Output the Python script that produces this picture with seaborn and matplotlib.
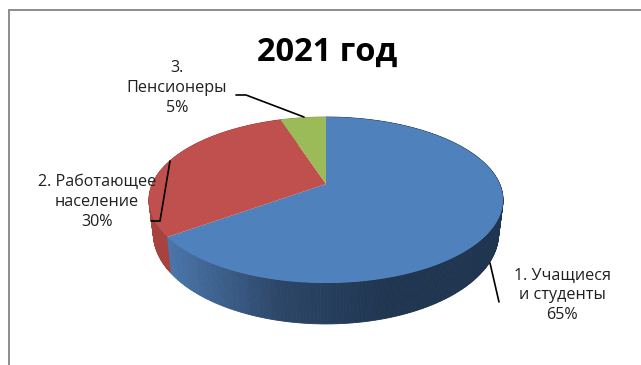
import numpy as np
import matplotlib
matplotlib.use("Agg")
import matplotlib.pyplot as plt
import seaborn as sns

# Share of each group, percent
labels = ["1. Учащиеся\nи студенты\n65%", "2. Работающее\nнаселение\n30%", "3.\nПенсионеры\n5%"]
shares = [65, 30, 5]
title = "2021 год"

sns.set_theme(style="white")
plt.rcParams["font.family"] = ["Open Sans", "DejaVu Sans"]

top_colors = ["#4f81bd", "#c0504d", "#9bbb59"]
side_ramps = [sns.blend_palette(["#4a76ab", "#2c4668", "#1f3550", "#1f3550"], 64),
              sns.blend_palette(["#a8423f", "#8c3836"], 64),
              sns.blend_palette(["#7f9a48", "#7f9a48"], 64)]

W, H = 641, 365
fig = plt.figure(figsize=(W / 100, H / 100), dpi=100, facecolor="white")
ax = fig.add_axes([0, 0, 1, 1])
ax.set_xlim(0, W)
ax.set_ylim(H, 0)
ax.axis("off")

# Perspective view of a flat disc
CX, CY = 326.0, 184.0
SX, SY, K = 173.7, 79.9, 0.193


def top_face(t):
    d = 1 + K * np.sin(t)
    return CX + SX * np.cos(t) / d, CY - SY * np.sin(t) / d


def bottom_face(t):
    d = 1 + K * np.sin(t)
    return CX + 0.975 * SX * np.cos(t) / d, CY + 32 - 1.09 * SY * np.sin(t) / d


# Slices run clockwise from twelve o'clock
edges = np.pi / 2 - 2 * np.pi * np.cumsum([0] + shares) / sum(shares)
spans = list(zip(edges[:-1], edges[1:]))

# Side wall, back to front, so nearer strips cover farther ones
strips = []
for i, (a, b) in enumerate(spans):
    ts = np.linspace(a, b, max(int(abs(b - a) * 90), 3))
    for t0, t1 in zip(ts[:-1], ts[1:]):
        strips.append((i, t0, t1))
strips.sort(key=lambda s: -np.sin((s[1] + s[2]) / 2))

for i, t0, t1 in strips:
    mid = (t0 + t1) / 2
    x0, _ = top_face(mid)
    frac = np.clip((x0 - 165) / (500 - 165), 0, 0.999)
    color = side_ramps[i][int(frac * 64)]
    xa, ya = top_face(t0)
    xb, yb = top_face(t1)
    xc, yc = bottom_face(t1)
    xd, yd = bottom_face(t0)
    ax.fill([xa, xb, xc, xd], [ya, yb, yc, yd], color=color, lw=0.6, zorder=2)

# Top face
for (a, b), color in zip(spans, top_colors):
    ts = np.linspace(a, b, 200)
    xs, ys = top_face(ts)
    ax.fill(np.r_[CX, xs], np.r_[CY, ys], color=color, lw=0, zorder=3)

# Chart frame
ax.plot([9, 9, 641], [365, 10, 10], color="#8c8c8c", lw=1.4, zorder=1, solid_joinstyle="miter")

ax.text(327, 52, title, ha="center", va="center", fontsize=23.5, fontweight="bold", color="black", zorder=5)

text_color = "#1f1f1f"
label_pos = [(562, 295), (97, 202), (177, 88)]
for text, (x, y) in zip(labels, label_pos):
    ax.text(x, y, text, ha="center", va="center", fontsize=11.6, color=text_color,
            linespacing=1.33, zorder=5)

# Leader lines
leaders = [[(490, 263), (499, 302)],
           [(170, 161), (160, 221), (151, 221)],
           [(304, 117), (246, 95), (236, 95)]]
for pts in leaders:
    xs, ys = zip(*pts)
    ax.plot(xs, ys, color="black", lw=1.2, zorder=4, solid_joinstyle="miter")

fig.savefig("out.png", dpi=100)
